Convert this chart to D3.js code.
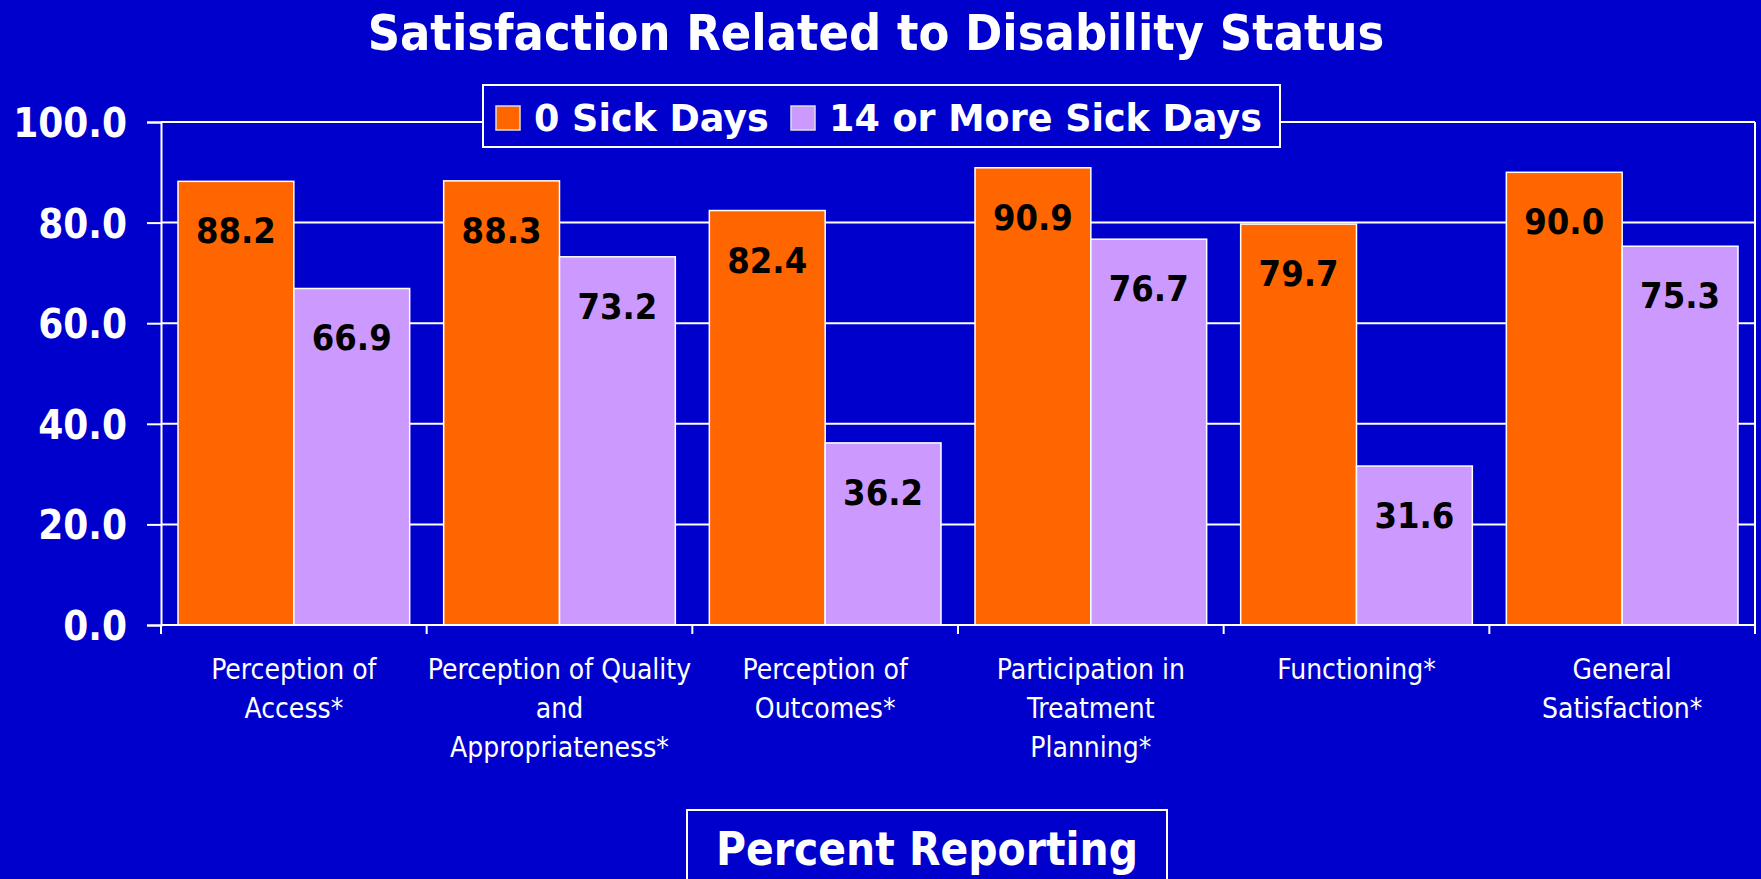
<!DOCTYPE html>
<html>
<head>
<meta charset="utf-8">
<script src="https://cdn.jsdelivr.net/npm/d3@7"></script>
<style>
  html, body { margin: 0; padding: 0; background: #0000cc; }
  svg { display: block; }
  text { font-family: "DejaVu Sans Condensed", "DejaVu Sans", sans-serif; font-stretch: condensed; }
  .legend text { font-family: "DejaVu Sans", sans-serif; font-stretch: normal; }
</style>
</head>
<body>
<div class="chart"></div>
<script>
var width = 1761,
    height = 879;

var categories = [
  ["Perception of", "Access*"],
  ["Perception of Quality", "and", "Appropriateness*"],
  ["Perception of", "Outcomes*"],
  ["Participation in", "Treatment", "Planning*"],
  ["Functioning*"],
  ["General", "Satisfaction*"]
];
var seriesNames = ["0 Sick Days", "14 or More Sick Days"];
var zeroSickDays = [88.2, 88.3, 82.4, 90.9, 79.7, 90.0];
var moreSickDays = [66.9, 73.2, 36.2, 76.7, 31.6, 75.3];
var yTicks = [0, 20, 40, 60, 80, 100];

var colors = ["#ff6600", "#cc99ff"];
var bg = "#0000cc";

var margin = {top: 122, left: 161, right: 6, bottom: 254};
var plotW = width - margin.left - margin.right,
    plotH = height - margin.top - margin.bottom;

var svg = d3.select(".chart").append("svg")
    .attr("width", width)
    .attr("height", height);

svg.append("rect")
    .attr("width", width)
    .attr("height", height)
    .attr("fill", bg);

var g = svg.append("g")
    .attr("transform", "translate(" + margin.left + "," + margin.top + ")");

var keys = categories.map(function(d, i) { return i; });

var x0 = d3.scaleBand()
    .domain(keys)
    .range([0, plotW]);

var x1 = d3.scaleBand()
    .domain([0, 1])
    .range([x0.bandwidth() * 0.064, x0.bandwidth() * 0.936]);

var y = d3.scaleLinear()
    .domain([0, 100])
    .range([plotH, 0]);

// gridlines
g.selectAll(".grid")
    .data(yTicks)
    .enter().append("line")
    .attr("x1", 0)
    .attr("x2", plotW)
    .attr("y1", function(d) { return y(d); })
    .attr("y2", function(d) { return y(d); })
    .attr("stroke", "#fff")
    .attr("stroke-width", 2);

// right border of the plot area
g.append("line")
    .attr("x1", plotW).attr("x2", plotW)
    .attr("y1", 0).attr("y2", plotH)
    .attr("stroke", "#fff")
    .attr("stroke-width", 2);

// bars
var data = keys.map(function(i) { return [zeroSickDays[i], moreSickDays[i]]; });

var groups = g.selectAll(".group")
    .data(data)
    .enter().append("g")
    .attr("transform", function(d, i) { return "translate(" + x0(i) + ",0)"; });

groups.selectAll("rect")
    .data(function(d) { return d; })
    .enter().append("rect")
    .attr("x", function(d, j) { return x1(j); })
    .attr("y", function(d) { return y(d); })
    .attr("width", x1.bandwidth())
    .attr("height", function(d) { return plotH - y(d); })
    .attr("fill", function(d, j) { return colors[j]; })
    .attr("stroke", "#fff")
    .attr("stroke-width", 1.5);

groups.selectAll(".val")
    .data(function(d) { return d; })
    .enter().append("text")
    .attr("x", function(d, j) { return x1(j) + x1.bandwidth() / 2; })
    .attr("y", function(d) { return y(d) + 62; })
    .attr("text-anchor", "middle")
    .style("font-size", "36px")
    .style("font-weight", "bold")
    .style("fill", "#000")
    .text(function(d) { return d.toFixed(1); });

// y axis
var yAxis = g.append("g")
    .call(d3.axisLeft(y).tickValues(yTicks).tickFormat(d3.format(".1f")).tickSize(14).tickPadding(20));
yAxis.select(".domain").attr("stroke", "#fff").attr("stroke-width", 2);
yAxis.selectAll(".tick line").attr("stroke", "#fff").attr("stroke-width", 2);
yAxis.selectAll(".tick text")
    .attr("fill", "#fff")
    .attr("dy", "0.36em")
    .style("font-size", "40px")
    .style("font-weight", "bold");

// x axis: ticks on the category borders
var xAxis = g.append("g")
    .attr("transform", "translate(0," + plotH + ")");
xAxis.append("line")
    .attr("x1", 0).attr("x2", plotW)
    .attr("stroke", "#fff").attr("stroke-width", 2);
xAxis.selectAll(".tk")
    .data(keys.concat([keys.length]))
    .enter().append("line")
    .attr("x1", function(d) { return d < keys.length ? x0(d) : plotW; })
    .attr("x2", function(d) { return d < keys.length ? x0(d) : plotW; })
    .attr("y1", 0).attr("y2", 9)
    .attr("stroke", "#fff").attr("stroke-width", 2);

var labels = xAxis.selectAll(".lbl")
    .data(categories)
    .enter().append("text")
    .attr("text-anchor", "middle")
    .attr("fill", "#fff")
    .style("font-size", "28px");
labels.selectAll("tspan")
    .data(function(d, i) { return d.map(function(t) { return {t: t, i: i}; }); })
    .enter().append("tspan")
    .attr("x", function(d) { return x0(d.i) + x0.bandwidth() / 2; })
    .attr("y", function(d, k) { return 54 + k * 39; })
    .text(function(d) { return d.t; });

// title
svg.append("text")
    .attr("x", 876)
    .attr("y", 50)
    .attr("text-anchor", "middle")
    .attr("fill", "#fff")
    .style("font-size", "50px")
    .style("font-weight", "bold")
    .text("Satisfaction Related to Disability Status");

// legend
var legend = svg.append("g").attr("class", "legend").attr("transform", "translate(483,85)");
legend.append("rect")
    .attr("width", 797)
    .attr("height", 62)
    .attr("fill", bg)
    .attr("stroke", "#fff")
    .attr("stroke-width", 2);
var legX = [13, 308];
var items = legend.selectAll(".item")
    .data(seriesNames)
    .enter().append("g")
    .attr("transform", function(d, i) { return "translate(" + legX[i] + ",21)"; });
items.append("rect")
    .attr("width", 24)
    .attr("height", 24)
    .attr("fill", function(d, i) { return colors[i]; })
    .attr("stroke", "#ddd")
    .attr("stroke-width", 1.5);
items.append("text")
    .attr("x", 38)
    .attr("y", 25)
    .attr("fill", "#fff")
    .style("font-size", "36.5px")
    .style("font-weight", "bold")
    .text(function(d) { return d; });

// bottom caption box
svg.append("rect")
    .attr("x", 687)
    .attr("y", 810)
    .attr("width", 480)
    .attr("height", 100)
    .attr("fill", bg)
    .attr("stroke", "#fff")
    .attr("stroke-width", 2);
svg.append("text")
    .attr("x", 927)
    .attr("y", 865)
    .attr("text-anchor", "middle")
    .attr("fill", "#fff")
    .style("font-size", "45.5px")
    .style("font-weight", "bold")
    .text("Percent Reporting");
</script>
</body>
</html>
